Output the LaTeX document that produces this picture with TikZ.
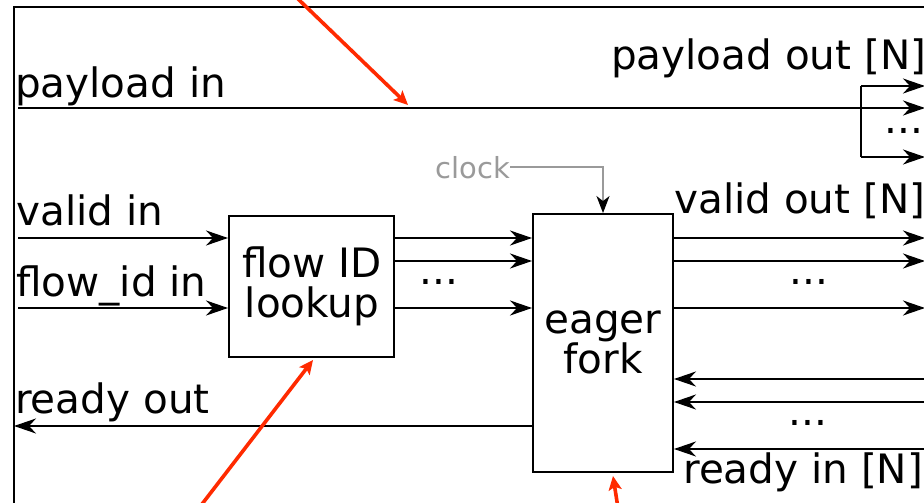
\documentclass[tikz,border=0pt]{standalone}
\usepackage{fontspec}
\setmainfont{DejaVu Sans}
\usetikzlibrary{arrows.meta,calc}
\definecolor{hintred}{HTML}{FF2A00}
\definecolor{clockgray}{HTML}{9A9A9A}

\begin{document}
\begin{tikzpicture}[x=1pt,y=-1pt,
  wire/.style={line width=1.9pt, black},
  arr/.style={wire, -{Stealth[length=22pt,width=15pt,inset=7pt]}},
  block/.style={draw, line width=1.9pt, inner sep=0pt},
  big/.style={inner sep=0pt, font=\fontsize{40.5}{40}\selectfont},
  lbl/.style={big, anchor=base west},
  btext/.style={big, anchor=base},
  dots/.style={big, anchor=base},
  clockwire/.style={clockgray, line width=1.5pt, -{Stealth[black,length=17pt,width=13pt,inset=5pt]}},
  hint/.style={hintred, line width=3.6pt, -{Stealth[length=14pt,width=13pt,inset=3pt]}}
]
\clip (0,0) rectangle (924,503);
\fill[white] (0,0) rectangle (924,503);

% outer module frame
\draw[wire] (14,7) rectangle (960,503.7);

% blocks
\node[block, minimum width=165pt, minimum height=141pt] (lookup) at (311.5,286.5) {};
\node[block, minimum width=140pt, minimum height=258pt] (fork) at (603,343) {};
\node[btext] (lookupA) at (312,277) {flow ID};
\node[btext] (lookupB) at (312,317) {lookup};
\node[btext] (forkA) at (603,333) {eager};
\node[btext] (forkB) at (603,373) {fork};

% row coordinates
\coordinate (r1) at (0,238);
\coordinate (r2) at (0,261);
\coordinate (r3) at (0,308);
\coordinate (q1) at (0,379);
\coordinate (q2) at (0,402);
\coordinate (q3) at (0,449);
\coordinate (qo) at (0,426);

% free ends on the frame / picture edge
\coordinate (pin) at (18,108);
\coordinate (vin) at (18,238);
\coordinate (fin) at (18,308);
\coordinate (rout) at (14,426);
\coordinate (redge) at (925,0);
\coordinate (inedge) at (960,0);

% payload fan-out
\coordinate (pb1) at (861,86);
\coordinate (pb2) at (861,108);
\coordinate (pb3) at (861,157);
\draw[wire] (pb1) -- (pb3);
\draw[arr] (pin) -- (redge |- pin);
\draw[arr] (pb1) -- (redge |- pb1);
\draw[arr] (pb3) -- (redge |- pb3);
\node[dots] (pdots) at (904,133) {...};

% inputs into lookup
\draw[arr] (vin) -- (lookup.west |- vin);
\draw[arr] (fin) -- (lookup.west |- fin);

% lookup to eager fork
\draw[arr] (lookup.east |- r1) -- (fork.west |- r1);
\draw[arr] (lookup.east |- r2) -- (fork.west |- r2);
\draw[arr] (lookup.east |- r3) -- (fork.west |- r3);
\node[dots] (ldots) at (439,284) {...};

% valid outputs
\draw[arr] (fork.east |- r1) -- (redge |- r1);
\draw[arr] (fork.east |- r2) -- (redge |- r2);
\draw[arr] (fork.east |- r3) -- (redge |- r3);
\node[dots] (vdots) at (809,284) {...};

% ready inputs
\draw[arr] (inedge |- q1) -- (fork.east |- q1);
\draw[arr] (inedge |- q2) -- (fork.east |- q2);
\draw[arr] (inedge |- q3) -- (fork.east |- q3);
\node[dots] (rdots) at (808,425) {...};

% ready output
\draw[arr] (fork.west |- qo) -- (rout);

% clock
\node[inner sep=0pt, anchor=base east, text=clockgray, font=\fontsize{29}{29}\selectfont] (clk) at (510,178) {clock};
\draw[clockwire] (clk.east) -| (fork.north);

% port labels
\node[lbl] (lpin) at (15,97) {payload in};
\node[lbl] (lpout) at (611,70) {payload out [N]};
\node[lbl] (lvin) at (16,225) {valid in};
\node[lbl] (lfin) at (16,296) {flow\_id in};
\node[lbl] (lvout) at (674,213) {valid out [N]};
\node[lbl] (lrout) at (15,413) {ready out};
\node[lbl] (lrin) at (683,483) {ready in [N]};

% highlight arrows
\coordinate (ha1) at (296,-3);
\coordinate (hb1) at (408,105);
\coordinate (ha2) at (199,508);
\coordinate (hb2) at (313,360);
\coordinate (ha3) at (618,508);
\coordinate (hb3) at (613,476);
\draw[hint] (ha1) -- (hb1);
\draw[hint] (ha2) -- (hb2);
\draw[hint] (ha3) -- (hb3);
\end{tikzpicture}
\end{document}
